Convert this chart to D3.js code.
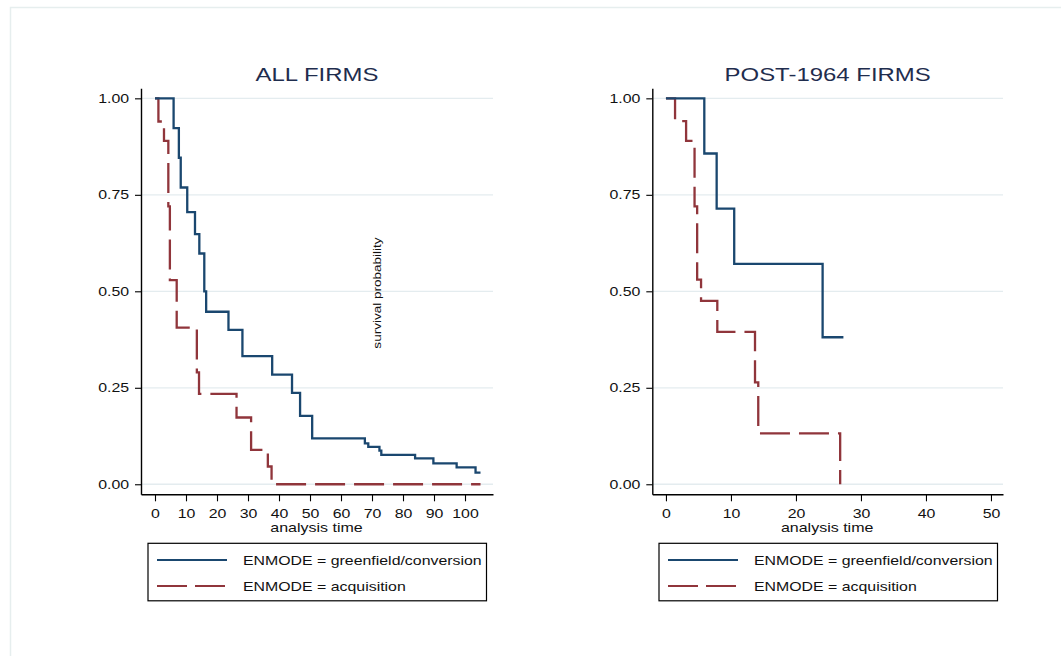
<!DOCTYPE html>
<html>
<head>
<meta charset="utf-8">
<script src="https://cdn.jsdelivr.net/npm/d3@7"></script>
<style>
  body { margin: 0; background: #fff; }
  text { font-family: "Liberation Sans", Arial, sans-serif; fill: #111; }
</style>
</head>
<body>
<div class="chart"></div>
<script>
// tick values / labels
var yTicks = [0, 0.25, 0.5, 0.75, 1];
var leftXTicks = [0, 10, 20, 30, 40, 50, 60, 70, 80, 90, 100];
var rightXTicks = [0, 10, 20, 30, 40, 50];
var panelTitles = ["ALL FIRMS", "POST-1964 FIRMS"];
var legendLabels = ["ENMODE = greenfield/conversion", "ENMODE = acquisition"];

// Kaplan-Meier steps (last entry = end of follow-up)
var leftGreenTime = [0, 6, 7.7, 8.3, 10.4, 12.9, 14.3, 15.9, 16.5, 23.7, 28.2, 37.8, 44.2, 46.8, 50.7, 67.7, 68.8, 72.4, 73, 83.9, 89.8, 97.3, 103.4, 105];
var leftGreenSurv = [1, 0.923, 0.846, 0.769, 0.705, 0.648, 0.598, 0.5, 0.447, 0.4, 0.332, 0.284, 0.237, 0.177, 0.119, 0.106, 0.097, 0.087, 0.076, 0.067, 0.054, 0.044, 0.03, 0.03];
var leftAcqTime = [0, 1.1, 2.9, 4.3, 4.8, 7.0, 13.5, 14.2, 26.3, 31.0, 36.4, 37.6, 105];
var leftAcqSurv = [1, 0.94, 0.89, 0.72, 0.529, 0.406, 0.29, 0.234, 0.173, 0.089, 0.046, 0, 0];

var rightGreenTime = [0, 5.9, 7.8, 10.5, 24.1, 27.3];
var rightGreenSurv = [1, 0.857, 0.714, 0.571, 0.381, 0.381];
var rightAcqTime = [0, 1.4, 3.1, 4.4, 4.8, 5.4, 7.9, 13.7, 14.2, 26.8];
var rightAcqSurv = [1, 0.941, 0.89, 0.72, 0.53, 0.475, 0.395, 0.264, 0.132, 0];

var svgWidth = 1061;
var svgHeight = 656;
var stretch = 1.26;   // text in the picture is wider than tall
var blue = "#1a476f";
var red = "#90353b";

var svg = d3.select(".chart")
  .append("svg")
  .attr("width", svgWidth)
  .attr("height", svgHeight);

// faint outer frame
svg.append("rect")
  .attr("x", 10.5).attr("y", 7.5)
  .attr("width", 1100).attr("height", 700)
  .attr("fill", "none")
  .attr("stroke", "#e6eeee")
  .attr("stroke-width", 1.5);

function wideText(g, x, y, str, size, anchor) {
  return g.append("text")
    .attr("transform", `translate(${x},${y}) scale(${stretch},1)`)
    .attr("text-anchor", anchor)
    .style("font-size", size + "px")
    .text(str);
}

function zip(ts, ss) {
  return ts.map(function(t, i) { return { t: t, s: ss[i] }; });
}

var panels = [
  { left: 141, right: 493, xDomain: [-4.516, 109.03], xTicks: leftXTicks, title: panelTitles[0],
    green: zip(leftGreenTime, leftGreenSurv), acq: zip(leftAcqTime, leftAcqSurv), legendX: 148 },
  { left: 652.3, right: 1003, xDomain: [-2.1, 51.85], xTicks: rightXTicks, title: panelTitles[1],
    green: zip(rightGreenTime, rightGreenSurv), acq: zip(rightAcqTime, rightAcqSurv), legendX: 659 }
];

var plotTop = 88.3, plotBottom = 494.3;

var yScale = d3.scaleLinear()
  .domain([-0.026, 1.026])
  .range([plotBottom, plotTop]);

panels.forEach(function(p) {
  var g = svg.append("g");

  var xScale = d3.scaleLinear()
    .domain(p.xDomain)
    .range([p.left, p.right]);

  // gridlines
  g.selectAll(".grid")
    .data(yTicks)
    .enter()
    .append("line")
    .attr("x1", p.left).attr("x2", p.right)
    .attr("y1", d => yScale(d)).attr("y2", d => yScale(d))
    .attr("stroke", "#e4ecef")
    .attr("stroke-width", 1.3);

  // axes
  var yAxis = d3.axisLeft(yScale)
    .tickValues(yTicks)
    .tickFormat(d3.format(".2f"))
    .tickSize(6)
    .tickSizeOuter(0)
    .tickPadding(3.5);

  var xAxis = d3.axisBottom(xScale)
    .tickValues(p.xTicks)
    .tickSize(7)
    .tickSizeOuter(0)
    .tickPadding(7.3);

  var ya = g.append("g")
    .attr("transform", `translate(${p.left},0)`)
    .call(yAxis);
  var xa = g.append("g")
    .attr("transform", `translate(0,${plotBottom})`)
    .call(xAxis);

  [ya, xa].forEach(function(a) {
    a.select(".domain").attr("stroke", "#000").attr("stroke-width", 1.4);
    a.selectAll(".tick line").attr("stroke", "#000").attr("stroke-width", 1.1);
    a.selectAll(".tick text")
      .attr("transform", `scale(${stretch},1)`)
      .style("font-size", "12.6px")
      .style("font-family", '"Liberation Sans", Arial, sans-serif')
      .attr("fill", "#111");
  });

  // title and axis title
  wideText(g, (p.left + p.right) / 2, 80.7, p.title, 19, "middle")
    .style("fill", "#1f2d4e");
  wideText(g, (p.left + p.right) / 2 - 0.5, 531.7, "analysis time", 12.7, "middle");

  // survival curves
  var line = d3.line()
    .x(d => xScale(d.t))
    .y(d => yScale(d.s))
    .curve(d3.curveStepAfter);

  g.append("path")
    .datum(p.acq)
    .attr("d", line)
    .attr("fill", "none")
    .attr("stroke", red)
    .attr("stroke-width", 2.3)
    .attr("stroke-dasharray", "30 9");

  g.append("path")
    .datum(p.green)
    .attr("d", line)
    .attr("fill", "none")
    .attr("stroke", blue)
    .attr("stroke-width", 2.3);

  // legend
  var lg = g.append("g").attr("transform", `translate(${p.legendX},543.3)`);
  lg.append("rect")
    .attr("x", 0).attr("y", 0)
    .attr("width", 338.5).attr("height", 57.5)
    .attr("fill", "#fff")
    .attr("stroke", "#000")
    .attr("stroke-width", 1.2);
  lg.append("line")
    .attr("x1", 9).attr("x2", 79).attr("y1", 16.7).attr("y2", 16.7)
    .attr("stroke", blue).attr("stroke-width", 2);
  lg.append("line")
    .attr("x1", 9).attr("x2", 79).attr("y1", 42.7).attr("y2", 42.7)
    .attr("stroke", red).attr("stroke-width", 2)
    .attr("stroke-dasharray", "30 8");
  wideText(lg, 95, 21.2, legendLabels[0], 12.6, "start");
  wideText(lg, 95, 47.2, legendLabels[1], 12.6, "start");
});

// stray y-axis title sitting inside the left panel
svg.append("text")
  .attr("transform", "translate(381,293) rotate(-90) scale(1.23,1)")
  .attr("text-anchor", "middle")
  .style("font-size", "11px")
  .text("survival probability");
</script>
</body>
</html>
